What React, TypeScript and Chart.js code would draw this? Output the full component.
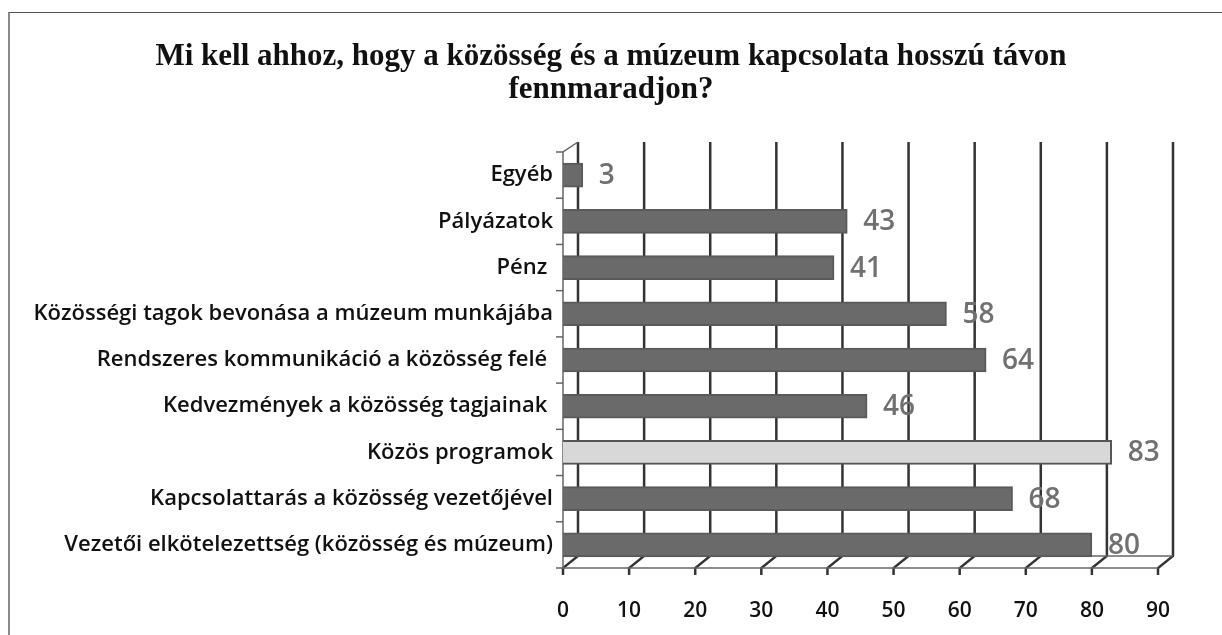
import React, { useEffect, useRef } from "react";
import { Chart, registerables } from "chart.js";

Chart.register(...registerables);

const titleLines = [
  "Mi kell ahhoz, hogy a közösség és a múzeum kapcsolata hosszú távon",
  "fennmaradjon?",
];
const categories = [
  "Egyéb",
  "Pályázatok",
  "Pénz ",
  "Közösségi tagok bevonása a múzeum munkájába",
  "Rendszeres kommunikáció a közösség felé ",
  "Kedvezmények a közösség tagjainak ",
  "Közös programok",
  "Kapcsolattarás a közösség vezetőjével",
  "Vezetői elkötelezettség (közösség és múzeum)",
];
const values = [3, 43, 41, 58, 64, 46, 83, 68, 80];
const highlighted = "Közös programok";
const xTicks = [0, 10, 20, 30, 40, 50, 60, 70, 80, 90];

const DEPTH_X = 15;
const DEPTH_Y = 12;

const titlePlugin = {
  id: "centeredTitle",
  afterDraw(chart: any) {
    const { ctx } = chart;
    ctx.save();
    ctx.font = "bold 31px 'Liberation Serif'";
    ctx.fillStyle = "#111";
    ctx.textAlign = "center";
    ctx.textBaseline = "middle";
    titleLines.forEach((line, i) => {
      ctx.fillText(line, 611, 57 + i * 33);
    });
    ctx.restore();
  },
};

const wallPlugin = {
  id: "wall3d",
  beforeDatasetsDraw(chart: any) {
    const { ctx, chartArea, scales } = chart;
    const x = scales.x;
    const { top, bottom, left } = chartArea;
    ctx.save();
    ctx.strokeStyle = "#333";
    ctx.lineWidth = 2.5;
    ctx.lineCap = "butt";
    const backTop = top - 10;
    const backBottom = bottom - DEPTH_Y;
    xTicks.forEach((v) => {
      const px = x.getPixelForValue(v);
      ctx.beginPath();
      ctx.moveTo(px + DEPTH_X, backTop);
      ctx.lineTo(px + DEPTH_X, backBottom);
      ctx.lineTo(px, bottom);
      ctx.lineTo(px, bottom + 7);
      ctx.stroke();
    });
    ctx.strokeStyle = "#666";
    ctx.lineWidth = 1.5;
    ctx.beginPath();
    ctx.moveTo(left, bottom);
    ctx.lineTo(x.getPixelForValue(90), bottom);
    ctx.stroke();
    ctx.beginPath();
    ctx.moveTo(left + DEPTH_X, backBottom);
    ctx.lineTo(x.getPixelForValue(90) + DEPTH_X, backBottom);
    ctx.stroke();
    ctx.beginPath();
    ctx.moveTo(left, bottom);
    ctx.lineTo(left, top);
    ctx.lineTo(left + DEPTH_X, backTop);
    ctx.stroke();
    const y = scales.y;
    const n = categories.length;
    const step = y.getPixelForValue(1) - y.getPixelForValue(0);
    for (let i = 0; i <= n; i++) {
      const py = i < n ? y.getPixelForValue(i) - step / 2 : bottom;
      ctx.beginPath();
      ctx.moveTo(left - 7, py);
      ctx.lineTo(left, py);
      ctx.stroke();
    }
    ctx.restore();
  },
};

const labelPlugin = {
  id: "valueLabels",
  afterDatasetsDraw(chart: any) {
    const { ctx } = chart;
    const meta = chart.getDatasetMeta(0);
    ctx.save();
    ctx.font = "600 28px 'Open Sans'";
    ctx.fillStyle = "#707070";
    ctx.textAlign = "left";
    ctx.textBaseline = "middle";
    meta.data.forEach((el: any, i: number) => {
      ctx.fillText(String(values[i]), el.x + 16, el.y + 1);
    });
    ctx.restore();
  },
};

export default function App() {
  const ref = useRef<HTMLCanvasElement>(null);
  useEffect(() => {
    if (!ref.current) return;
    const chart = new Chart(ref.current, {
      type: "bar",
      data: {
        labels: categories,
        datasets: [
          {
            data: values,
            backgroundColor: categories.map((c) => (c === highlighted ? "#d8d8d8" : "#6a6a6a")),
            borderColor: categories.map((c) => (c === highlighted ? "#555555" : "#5a5a5a")),
            borderWidth: 2,
            barThickness: 24,
          },
        ],
      },
      options: {
        indexAxis: "y",
        responsive: false,
        animation: false,
        layout: { padding: { top: 152, right: 64, bottom: 0, left: 0 } },
        plugins: {
          legend: { display: false },
          tooltip: { enabled: false },
          title: { display: false },
        },
        scales: {
          x: {
            min: 0,
            max: 90,
            grid: { display: false },
            border: { display: false },
            afterFit(scale: any) {
              scale.height = 67;
            },
            ticks: {
              stepSize: 10,
              color: "#111",
              padding: 22,
              font: { family: "'Open Sans'", size: 21, weight: "600" },
            },
          },
          y: {
            grid: { display: false },
            border: { display: false },
            afterFit(scale: any) {
              scale.width = 563;
            },
            ticks: {
              color: "#111",
              padding: 2,
              font: { family: "'Open Sans'", size: 22, weight: "600" },
            },
          },
        },
      },
      plugins: [wallPlugin, labelPlugin, titlePlugin],
    });
    return () => chart.destroy();
  }, []);

  return (
    <div style={{ position: "fixed", left: 0, top: 0, width: 1222, height: 635, background: "#fff" }}>
      <div
        style={{
          position: "absolute",
          left: 8,
          top: 12,
          right: 0,
          bottom: 0,
          borderLeft: "2px solid #8a8a8a",
          borderTop: "1.5px solid #555",
        }}
      />
      <canvas ref={ref} width={1222} height={635} style={{ position: "absolute", left: 0, top: 0 }} />
    </div>
  );
}
